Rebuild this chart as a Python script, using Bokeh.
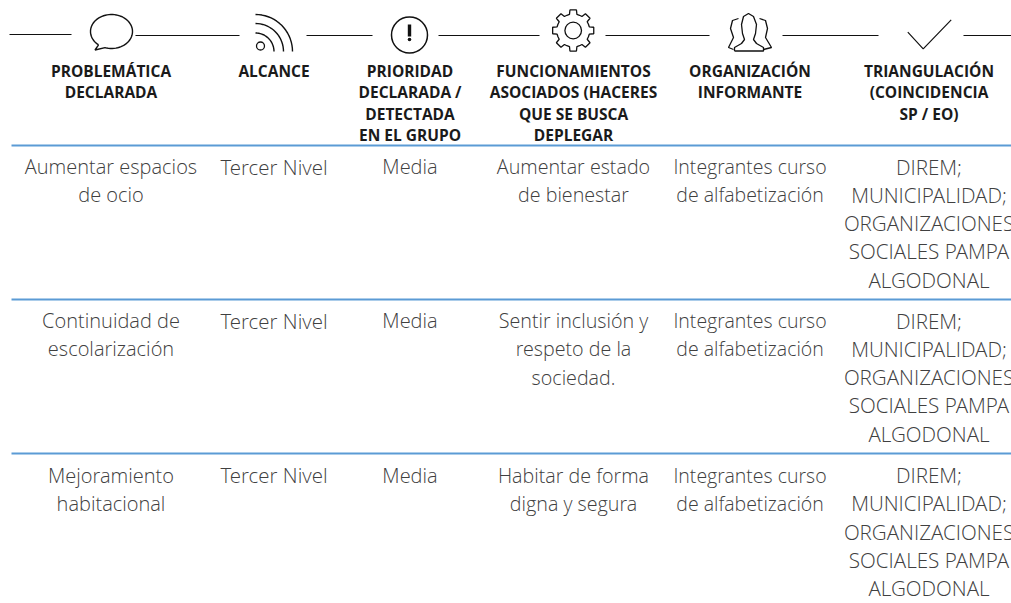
import numpy as np
from bokeh.core.properties import value
from bokeh.embed import file_html
from bokeh.models import Range1d
from bokeh.plotting import figure
from bokeh.resources import INLINE

headers = [
    ["PROBLEMÁTICA", "DECLARADA"],
    ["ALCANCE"],
    ["PRIORIDAD", "DECLARADA /", "DETECTADA", "EN EL GRUPO"],
    ["FUNCIONAMIENTOS", "ASOCIADOS (HACERES", "QUE SE BUSCA", "DEPLEGAR"],
    ["ORGANIZACIÓN", "INFORMANTE"],
    ["TRIANGULACIÓN", "(COINCIDENCIA", "SP / EO)"],
]
triang = ["DIREM;", "MUNICIPALIDAD;", "ORGANIZACIONES", "SOCIALES PAMPA", "ALGODONAL"]
rows = [
    [["Aumentar espacios", "de ocio"], ["Tercer Nivel"], ["Media"], ["Aumentar estado", "de bienestar"],
     ["Integrantes curso", "de alfabetización"], triang],
    [["Continuidad de", "escolarización"], ["Tercer Nivel"], ["Media"], ["Sentir inclusión y", "respeto de la", "sociedad."],
     ["Integrantes curso", "de alfabetización"], triang],
    [["Mejoramiento", "habitacional"], ["Tercer Nivel"], ["Media"], ["Habitar de forma", "digna y segura"],
     ["Integrantes curso", "de alfabetización"], triang],
]
col_x = [110.5, 273.5, 409.5, 573, 749.5, 928.5]
col_size = ["20px", "20.5px", "20px", "19.7px", "19.5px", "20.6px"]
head_y = 70.5
head_step = 21.3
row_y = [166, 320, 474.5]
row_step = 28.3
rule_y = [145, 299, 453]
seg_x = [(9, 71), (135, 239), (306, 372), (438, 539), (605, 709), (782, 878), (963, 1011)]
seg_y = [34, 35, 35, 35, 35, 35, 35]

W, H = 1011, 603
p = figure(width=W, height=H, output_backend="svg", toolbar_location=None,
           x_range=Range1d(0, W), y_range=Range1d(H, 0),
           min_border=0, outline_line_color=None)
p.axis.visible = False
p.grid.visible = False
p.background_fill_color = "white"

BODY = value("Open Sans Light")
HEAD = value("Open Sans")

for cx, lines in zip(col_x, headers):
    ys = [head_y + i * head_step for i in range(len(lines))]
    p.text([cx] * len(lines), ys, text=lines, text_font=HEAD, text_font_style="bold",
           text_font_size="15.5px", text_color="#1a1a1a", text_align="center", text_baseline="middle")

for ry, row in zip(row_y, rows):
    for cx, fs, lines in zip(col_x, col_size, row):
        ys = [ry + i * row_step for i in range(len(lines))]
        p.text([cx] * len(lines), ys, text=lines, text_font=BODY, text_font_size=fs,
               text_color="#404040", text_align="center", text_baseline="middle")

p.segment([11] * 3, rule_y, [1011] * 3, rule_y, line_color="#5b9bd5", line_width=2)
p.segment([a for a, _ in seg_x], seg_y, [b for _, b in seg_x], seg_y, line_color="#111111", line_width=1.1)

INK = "#111111"
# speech bubble
t = np.radians(np.arange(128, 128 + 345, 5))
bx = 111 + 21 * np.cos(t)
by = 31 + 17 * np.sin(t)
p.line(list(bx) + [94.5, bx[0]], list(by) + [49.5, by[0]], line_color=INK, line_width=1.4)
# signal
p.circle([260], [45.5], radius=4, fill_color=None, line_color=INK, line_width=1.3)
t = np.radians(np.arange(0, 91, 5))
for r in [18.5, 28, 37]:
    p.line(255 + r * np.sin(t), 51 - r * np.cos(t), line_color=INK, line_width=1.4)
# warning
p.circle([409], [34.5], radius=18, fill_color=None, line_color=INK, line_width=1.5)
p.quad(left=[407.3], right=[410.7], top=[24], bottom=[36], fill_color=INK, line_color=None)
p.circle([409], [39], radius=1.8, fill_color=INK, line_color=None)
# gear
gc = (572.7, 30)
ang, rad = [], []
for k in range(8):
    a = k * 45
    ang += [a - 22.5, a - 13, a - 9, a + 9, a + 13]
    rad += [16.5, 16.5, 20.8, 20.8, 16.5]
ang = np.radians(ang + [ang[0]])
rad = np.array(rad + [rad[0]])
p.line(gc[0] + rad * np.cos(ang), gc[1] + rad * np.sin(ang), line_color=INK, line_width=1.3)
p.circle([gc[0]], [gc[1]], radius=8.3, fill_color=None, line_color=INK, line_width=1.3)
# people
p.line([734, 734, 741, 744, 742, 741, 743, 748, 753, 756, 755, 753, 756, 763, 763, 734],
       [50.5, 47, 43, 39, 33, 24, 16, 13, 16, 24, 33, 39, 43, 47, 50.5, 50.5],
       line_color=INK, line_width=1.3)
p.line([738, 732, 730, 733, 728, 733], [18, 20, 28, 37, 47, 49], line_color=INK, line_width=1.3)
p.line([759, 765, 767, 765, 771, 763], [18, 20, 28, 37, 47, 49], line_color=INK, line_width=1.3)
# check
p.line([907.3, 922.7, 950.7], [31.7, 48.3, 19.3], line_color=INK, line_width=1.2)

open("out.html", "w").write(file_html(p, INLINE))
